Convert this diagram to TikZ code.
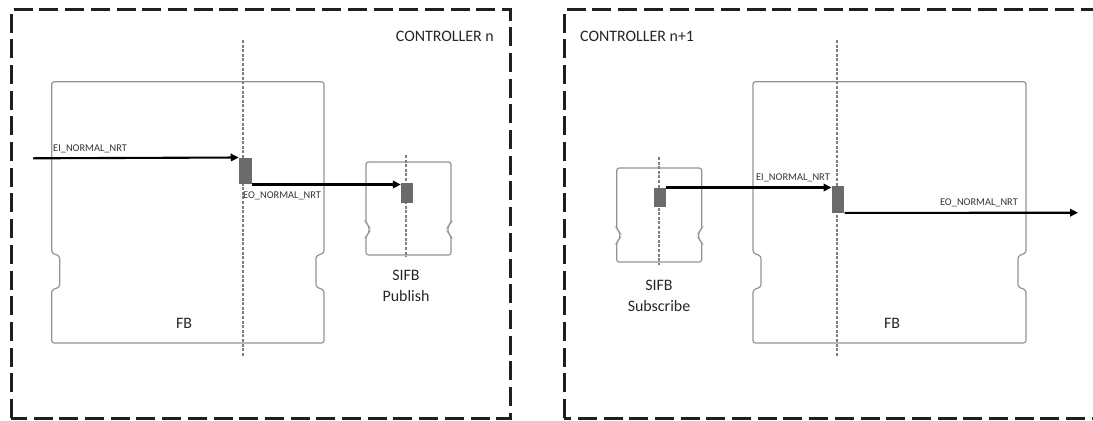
\documentclass[tikz,border=0pt]{standalone}
\usepackage{fontspec}
\setmainfont{Carlito}
\usetikzlibrary{arrows.meta,calc}

% Outline of a function block: rounded rectangle with a notch on each side
% #1 x-left, #2 y-top, #3 x-right, #4 y-bottom, #5 notch top, #6 notch bottom, #7 notch depth
\newcommand\blockbody[7]{%
  \draw[fbline,rounded corners=2.5bp]
    ({(#1+#3)/2},#2) -- (#3,#2) -- (#3,#5) -- ({#3-#7},{#5+3}) -- ({#3-#7},{#6-3})
    -- (#3,#6) -- (#3,#4) -- (#1,#4) -- (#1,#6) -- ({#1+#7},{#6-3})
    -- ({#1+#7},{#5+3}) -- (#1,#5) -- (#1,#2) -- cycle;}

\begin{document}
\begin{tikzpicture}[x=1bp,y=-1bp,
  frame/.style={draw=black!88,line width=3bp,dash pattern=on 19bp off 6.7bp},
  fbline/.style={draw=black!42,line width=1.2bp},
  axis/.style={draw=black!50,line width=2.3bp,dash pattern=on 3bp off 1.6bp},
  port/.style={draw=none,fill=black!58,minimum width=#1,inner sep=0pt},
  flow/.style={draw=black,line width=2.1bp,-{Triangle[length=8bp,width=7.5bp]}},
  bigtxt/.style={font=\fontsize{16}{21}\selectfont,text=black!85,inner sep=0pt,align=center},
  sigtxt/.style={font=\fontsize{10.4}{12}\selectfont,text=black!80,inner sep=0pt}]

\clip (0,0) rectangle (1093,420);
\fill[white] (0,0) rectangle (1093,420);

% controller frames
\draw[frame] (11,418) -- (11,9.5) -- (510,9.5) -- (510,418) -- cycle;
\draw[frame] (564,418) -- (564,9.5) -- (1110,9.5) -- (1110,418) -- cycle;
\node[bigtxt,anchor=east] (ctrlA) at (494,36) {CONTROLLER n};
\node[bigtxt,anchor=west] (ctrlB) at (580,36) {CONTROLLER n+1};

% controller n: function block and publishing SIFB
\blockbody{51.7}{81.7}{324}{343}{253}{290}{8}
\blockbody{366}{162}{451}{255}{223}{236}{3}
\draw[axis] (243.3,40) -- (243.3,357);
\draw[axis] (406,155) -- (406,257);
\node[port=12.7bp,minimum height=26.6bp] (blkA) at (245.3,171) {};
\node[port=12bp,minimum height=20bp] (blkB) at (407,193) {};
\node[bigtxt] (fbA) at (184,323) {FB};
\node[bigtxt] (pub) at (406,286) {SIFB\\Publish};

\coordinate (inA) at (33,158.3);
\draw[flow] (inA) -- (blkA.north west);
\draw[flow] (blkA.south east) -- (blkA.south east -| blkB.west);
\node[sigtxt,anchor=west] (eiA) at (53,149) {EI\_NORMAL\_NRT};
\node[sigtxt,anchor=west] (eoA) at (243,195.5) {EO\_NORMAL\_NRT};

% controller n+1: subscribing SIFB and function block
\blockbody{753}{81.7}{1026}{343}{253}{290}{8}
\blockbody{616.7}{168}{701.7}{262}{229}{242}{3}
\draw[axis] (837,40) -- (837,356);
\draw[axis] (659,157) -- (659,265);
\node[port=11.4bp,minimum height=19bp] (blkC) at (660,197.2) {};
\node[port=12.6bp,minimum height=26.4bp] (blkD) at (838,199.5) {};
\node[bigtxt] (fbB) at (892,323) {FB};
\node[bigtxt] (sub) at (659,296) {SIFB\\Subscribe};

\coordinate (outD) at (1078,212.7);
\draw[flow] (blkC.north east) -- (blkC.north east -| blkD.west);
\draw[flow] (blkD.south east) -- (outD);
\node[sigtxt,anchor=east] (eiB) at (830,178) {EI\_NORMAL\_NRT};
\node[sigtxt,anchor=east] (eoB) at (1018,203) {EO\_NORMAL\_NRT};
\end{tikzpicture}
\end{document}
